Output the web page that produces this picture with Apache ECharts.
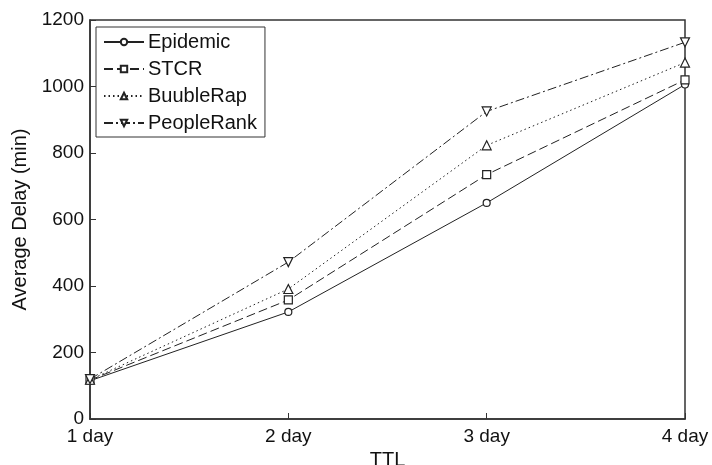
<!DOCTYPE html>
<html><head><meta charset="utf-8">
<script src="https://cdn.jsdelivr.net/npm/echarts@6/dist/echarts.min.js"></script>
<style>html,body{margin:0;padding:0;background:#fff}#c{width:712px;height:465px}</style>
</head><body><div id="c"></div>
<script>
var categories = ['1 day', '2 day', '3 day', '4 day'];
var epidemic = [115, 322, 650, 1006];
var stcr = [117, 358, 735, 1020];
var buubleRap = [118, 391, 823, 1072];
var peopleRank = [120, 472, 925, 1133];
var yTicks = [0, 200, 400, 600, 800, 1000, 1200];

var font = 'Liberation Sans, Arial, sans-serif';
var downTri = 'path://M0,0 L10,0 L5,9 Z';
function mk(name, data, symbol, dash, size) {
  return {
    name: name, type: 'line', data: data, symbol: symbol, symbolSize: size,
    lineStyle: { color: '#222', width: 1, type: dash },
    itemStyle: { color: '#fff', borderColor: '#222', borderWidth: 1.2 },
    emphasis: { disabled: true }, animation: false
  };
}
var chart = echarts.init(document.getElementById('c'));
chart.setOption({
  backgroundColor: '#fff',
  grid: { left: 90, right: 27, top: 20, bottom: 46, show: true, borderColor: '#333', borderWidth: 1.5,
          containLabel: false, outerBoundsMode: 'none' },
  legend: {
    orient: 'vertical', left: 96, top: 27, padding: [5, 8, 4, 7], itemGap: 7,
    itemWidth: 40, itemHeight: 8,
    borderColor: '#333', borderWidth: 1, backgroundColor: '#fff',
    textStyle: { fontFamily: font, fontSize: 20, color: '#111', padding: [0, 0, 0, -1] },
    data: ['Epidemic', 'STCR', 'BuubleRap', 'PeopleRank']
  },
  xAxis: {
    type: 'category', data: categories, boundaryGap: false,
    name: 'TTL', nameLocation: 'middle', nameGap: 26,
    nameTextStyle: { fontFamily: font, fontSize: 20, color: '#111' },
    axisLine: { lineStyle: { color: '#333', width: 1.5 } },
    axisTick: { inside: true, length: 6, lineStyle: { color: '#333' } },
    axisLabel: { fontFamily: font, fontSize: 19, color: '#111', margin: 8 },
    splitLine: { show: false }
  },
  yAxis: {
    type: 'value', min: 0, max: 1200, interval: 200,
    name: 'Average Delay (min)', nameLocation: 'middle', nameGap: 54,
    nameTextStyle: { fontFamily: font, fontSize: 20, color: '#111' },
    axisLine: { show: true, lineStyle: { color: '#333', width: 1.5 } },
    axisTick: { show: true, inside: true, length: 6, lineStyle: { color: '#333' } },
    axisLabel: { fontFamily: font, fontSize: 19, color: '#111', margin: 6,
      formatter: function (v) { return yTicks.indexOf(v) >= 0 ? String(v) : ''; } },
    splitLine: { show: false }
  },
  series: [
    mk('Epidemic', epidemic, 'circle', 'solid', 7),
    mk('STCR', stcr, 'rect', [9, 4], 8),
    mk('BuubleRap', buubleRap, 'triangle', [1.5, 3], 9),
    mk('PeopleRank', peopleRank, downTri, [9, 3, 2, 3], 9)
  ]
});
</script></body></html>
